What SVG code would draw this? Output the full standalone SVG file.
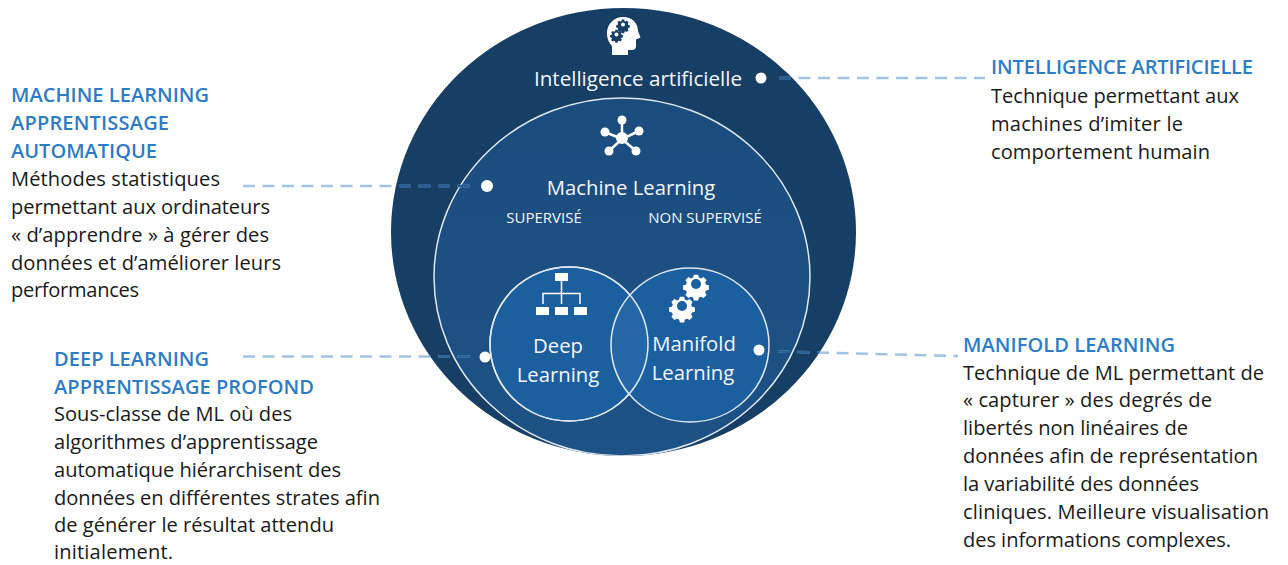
<svg xmlns="http://www.w3.org/2000/svg" width="1288" height="565" viewBox="0 0 1288 565">
<defs>
<clipPath id="outerClip"><ellipse cx="623.500" cy="232" rx="232.500" ry="224"/></clipPath>
<clipPath id="deepClip"><ellipse cx="569" cy="344" rx="79" ry="77"/></clipPath>
<linearGradient id="mlFill" x1="0" y1="0" x2="0" y2="1"><stop offset="0" stop-color="#1b4c7e"/><stop offset="1" stop-color="#1d5286"/></linearGradient>
<path id="gear" d="M-3-13h6l1 4 3 1.200 3.500-2 4.200 4.200-2 3.500 1.200 3 4 1v6l-4 1-1.200 3 2 3.500-4.200 4.200-3.500-2-3 1.200-1 4h-6l-1-4-3-1.200-3.500 2-4.200-4.200 2-3.500-1.200-3-4-1v-6l4-1 1.200-3-2-3.500 4.200-4.200 3.500 2 3-1.200z"/>
</defs>
<style>
text{font-family:"Open Sans","Liberation Sans",sans-serif}
.h{font-size:20px;font-weight:600;fill:#2e7cc4}
.b{font-size:20.100px;fill:#1a1a1a}
.w{fill:#f2f6fa;text-anchor:middle}
.t{font-size:20.300px}
.s{font-size:15px}
.ring{stroke:#dfe8f0;stroke-width:1.500}
.dot{fill:#fff}
.ic{fill:#fff}
.lead{fill:none;stroke-width:2.500;stroke-dasharray:12 7.500}
.light{stroke:#a3c3e2}
.dark{stroke:#245f97;clip-path:url(#outerClip)}
</style>
<rect width="1288" height="565" fill="#fff"/>
<g id="node-ai"><ellipse cx="623.500" cy="232" rx="232.500" ry="224" fill="#173e64"/>
<path class="ic" d="M612 55V46C608 42 607 37 607 33C607 24 614 17 623 17C632 17 638 23 638 31L640.500 37.500L636 39.500V46C636 49 634 50 632 50H628V55Z"/>
<g fill="#173e64"><use href="#gear" transform="translate(623 24.500) scale(.38)"/><use href="#gear" transform="translate(616.500 34.500) scale(.36)"/></g>
<g fill="#fff"><circle cx="623" cy="24.500" r="2"/><circle cx="616.500" cy="34.500" r="2"/></g>
<text class="w" x="638" y="86" font-size="20.600" style="font-size:20.600px">Intelligence artificielle</text>
<circle class="dot" cx="761" cy="78" r="5.500"/></g>
<g id="node-ml"><g clip-path="url(#outerClip)"><ellipse class="ring" cx="622" cy="277" rx="188" ry="179" fill="url(#mlFill)"/></g>
<g class="ic"><path d="M622 139V120M622 139L605 132M622 139L639 131M622 139L609 151M622 139L636 151" stroke="#fff" stroke-width="2.500"/><circle cx="622" cy="138" r="6"/><circle cx="622" cy="120" r="4.500"/><circle cx="605" cy="132" r="4.500"/><circle cx="639" cy="131" r="4.500"/><circle cx="609" cy="151" r="4.500"/><circle cx="636" cy="151" r="4.500"/></g>
<text class="w t" x="631" y="195">Machine Learning</text>
<text class="w s" x="544" y="223">SUPERVISÉ</text>
<text class="w s" x="705" y="223">NON SUPERVISÉ</text>
<circle class="dot" cx="487" cy="186" r="6"/></g>
<g id="node-deep"><ellipse class="ring" cx="569" cy="344" rx="79" ry="77" fill="#1c5f9f"/>
<g class="ic"><rect x="555" y="273" width="13" height="8"/><rect x="536" y="307" width="13" height="8"/><rect x="555" y="307" width="13" height="8"/><rect x="574" y="307" width="13" height="8"/><path d="M561.500 281V304M543 304V293.500H580V304" fill="none" stroke="#fff" stroke-width="1.500"/></g>
<text class="w t" x="558" y="353">Deep</text><text class="w t" x="558" y="382">Learning</text>
<circle class="dot" cx="485" cy="357" r="5.500"/></g>
<g id="node-manifold"><ellipse cx="690" cy="345" rx="79" ry="77" fill="#1c5f9f"/>
<g clip-path="url(#deepClip)"><ellipse cx="690" cy="345" rx="79" ry="77" fill="#2566a6"/></g>
<ellipse class="ring" cx="690" cy="345" rx="79" ry="77" fill="none"/><ellipse class="ring" cx="569" cy="344" rx="79" ry="77" fill="none"/>
<g class="ic"><use href="#gear" transform="translate(696 284) scale(.72)"/><use href="#gear" transform="translate(682 306) scale(.72)"/></g>
<g fill="#1c5f9f"><circle cx="696" cy="284" r="5"/><circle cx="682" cy="306" r="5"/></g>
<text class="w t" x="694" y="351">Manifold</text><text class="w t" x="693" y="380">Learning</text>
<circle class="dot" cx="759" cy="350" r="5.500"/></g>
<g id="connectors">
<path class="lead light" d="M779 78H985"/><path class="lead dark" d="M779 78H985"/>
<path class="lead light" d="M243 186H472"/><path class="lead dark" d="M243 186H472"/>
<path class="lead light" d="M243 356.500H472"/><path class="lead dark" d="M243 356.500H472"/>
<path class="lead light" d="M778 351.500L958 356"/><path class="lead dark" d="M778 351.500L958 356"/>
</g>
<g id="label-ml"><text class="h" x="11" y="102" textLength="198">MACHINE LEARNING</text><text class="h" x="11" y="130" textLength="158">APPRENTISSAGE</text><text class="h" x="11" y="158" textLength="146">AUTOMATIQUE</text>
<text class="b" x="11" y="186" textLength="209">Méthodes statistiques</text><text class="b" x="11" y="214" textLength="259">permettant aux ordinateurs</text><text class="b" x="11" y="242" textLength="258">« d’apprendre » à gérer des</text><text class="b" x="11" y="270" textLength="270">données et d’améliorer leurs</text><text class="b" x="11" y="297" textLength="128">performances</text></g>
<g id="label-deep"><text class="h" x="54" y="366" textLength="155">DEEP LEARNING</text><text class="h" x="54" y="394" textLength="260">APPRENTISSAGE PROFOND</text>
<text class="b" x="54" y="421" textLength="238">Sous-classe de ML où des</text><text class="b" x="54" y="449" textLength="264">algorithmes d’apprentissage</text><text class="b" x="54" y="477" textLength="287">automatique hiérarchisent des</text><text class="b" x="54" y="505" textLength="326">données en différentes strates afin</text><text class="b" x="54" y="532" textLength="280">de générer le résultat attendu</text><text class="b" x="54" y="559" textLength="119">initialement.</text></g>
<g id="label-ai"><text class="h" x="991" y="74" textLength="262">INTELLIGENCE ARTIFICIELLE</text>
<text class="b" x="991" y="103" textLength="248">Technique permettant aux</text><text class="b" x="991" y="131" textLength="192">machines d’imiter le</text><text class="b" x="991" y="159" textLength="219">comportement humain</text></g>
<g id="label-manifold"><text class="h" x="963" y="352" textLength="212">MANIFOLD LEARNING</text>
<text class="b" x="963" y="380" textLength="301">Technique de ML permettant de</text><text class="b" x="963" y="407" textLength="249">« capturer » des degrés de</text><text class="b" x="963" y="435" textLength="225">libertés non linéaires de</text><text class="b" x="963" y="463" textLength="295">données afin de représentation</text><text class="b" x="963" y="491" textLength="236">la variabilité des données</text><text class="b" x="963" y="519" textLength="306">cliniques. Meilleure visualisation</text><text class="b" x="963" y="547" textLength="268">des informations complexes.</text></g>
</svg>
